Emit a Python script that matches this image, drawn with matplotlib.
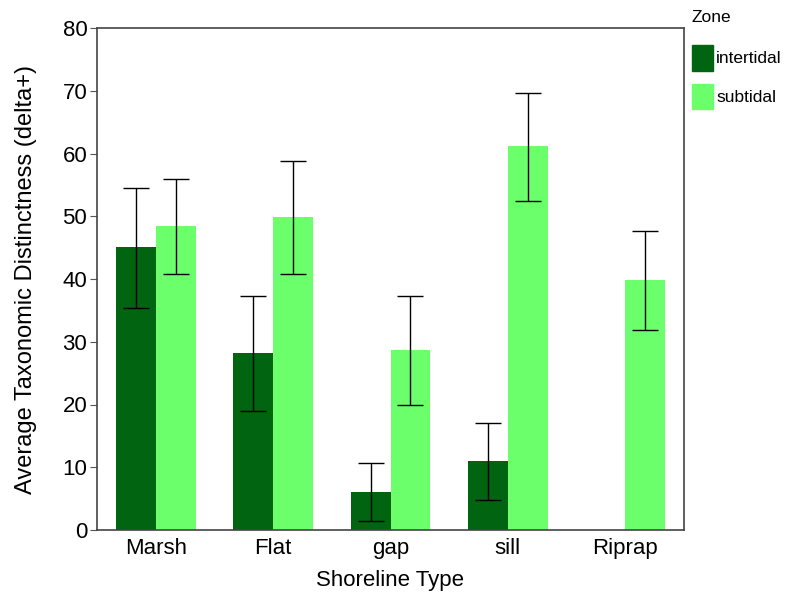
import numpy as np
import matplotlib
matplotlib.use("Agg")
import matplotlib.pyplot as plt
from matplotlib.patches import Patch

plt.rcParams["font.family"] = ["Liberation Sans", "DejaVu Sans"]

# ===============================
# DATA
# ===============================
shorelines = ["Marsh", "Flat", "gap", "sill", "Riprap"]
intertidal = [45.1, 28.2, 6.1, 11.0, np.nan]
intertidal_lo = [35.4, 19.0, 1.4, 4.8, np.nan]
intertidal_hi = [54.5, 37.3, 10.7, 17.1, np.nan]
subtidal = [48.4, 49.9, 28.7, 61.2, 39.8]
subtidal_lo = [40.8, 40.8, 19.9, 52.4, 31.9]
subtidal_hi = [55.9, 58.8, 37.3, 69.6, 47.6]

dark = "#006410"
light = "#6cff6c"

# ===============================
# PLOT
# ===============================
fig = plt.figure(figsize=(7.86, 5.92), dpi=100)
ax = fig.add_axes([97 / 786, 62 / 592, 587 / 786, 502 / 592])

x = np.arange(len(shorelines))
w = 0.34

it = np.array(intertidal)
st = np.array(subtidal)
it_err = [it - np.array(intertidal_lo), np.array(intertidal_hi) - it]
st_err = [st - np.array(subtidal_lo), np.array(subtidal_hi) - st]

ax.bar(x - w / 2, it, w, color=dark)
ax.bar(x + w / 2, st, w, color=light)
ax.errorbar(x - w / 2, it, yerr=it_err, fmt="none", ecolor="black",
            elinewidth=1, capsize=9.5, capthick=1)
ax.errorbar(x + w / 2, st, yerr=st_err, fmt="none", ecolor="black",
            elinewidth=1, capsize=9.5, capthick=1)

ax.set_xlim(-0.5, 4.5)
ax.set_ylim(0, 80)
ax.set_yticks(range(0, 81, 10))
ax.set_xticks(x)
ax.set_xticklabels(shorelines)
ax.tick_params(axis="both", labelsize=16, color="#555555", length=5)
ax.tick_params(axis="y", pad=2)
ax.tick_params(axis="x", length=0, pad=6)
for s in ax.spines.values():
    s.set_color("#444444")
    s.set_linewidth(1.2)

ax.set_xlabel("Shoreline Type", fontsize=16, labelpad=8)
ax.set_ylabel("Average Taxonomic Distinctness (delta+)", fontsize=17, labelpad=18)

# legend: title as separate text, entries below
fig.text(692 / 786, 1 - 17 / 592, "Zone", fontsize=12.5, va="center", ha="left")
handles = [Patch(color=dark, label="intertidal"),
           Patch(color=light, label="subtidal")]
leg = fig.legend(handles=handles, loc="upper left",
                 bbox_to_anchor=(678 / 786, 1 - 31 / 592), frameon=False,
                 fontsize=12.5, handlelength=1.2,
                 handleheight=1.9, handletextpad=0.2, labelspacing=0.75,
                 borderpad=0.3)

fig.savefig("out.png", dpi=100)
